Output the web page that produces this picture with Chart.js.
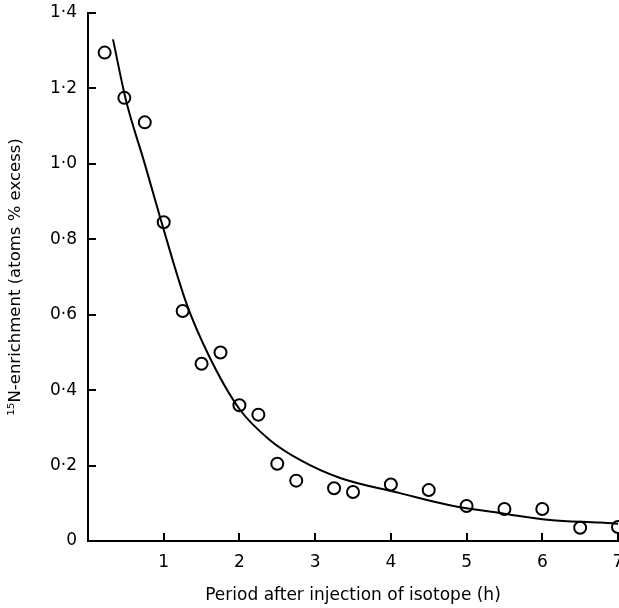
<!DOCTYPE html>
<html>
<head>
<meta charset="utf-8">
<script src="https://cdn.jsdelivr.net/npm/chart.js@4/dist/chart.umd.min.js"></script>
<style>
  html, body { margin: 0; padding: 0; background: #fff; }
  #wrap { width: 619px; height: 608px; position: relative; }
</style>
</head>
<body>
<div id="wrap"><canvas id="chart"></canvas></div>
<script>
// measured points (open circles)
const hours = [0.22, 0.48, 0.75, 1.0, 1.25, 1.5, 1.75, 2.0, 2.25, 2.5, 2.75, 3.25, 3.5, 4.0, 4.5, 5.0, 5.5, 6.0, 6.5, 7.0];
const enrichment = [1.295, 1.175, 1.11, 0.845, 0.61, 0.47, 0.50, 0.36, 0.335, 0.205, 0.16, 0.14, 0.13, 0.15, 0.135, 0.093, 0.085, 0.085, 0.035, 0.037];

// fitted curve
const curveHours = [0.33, 0.5, 0.75, 0.95, 1.3, 1.6, 2.0, 2.4, 2.8, 3.33, 4.12, 4.78, 5.44, 6.1, 6.76, 7.0];
const curveValues = [1.33, 1.17, 1.0, 0.86, 0.63, 0.49, 0.35, 0.268, 0.215, 0.167, 0.127, 0.095, 0.074, 0.056, 0.049, 0.046];

const xTicks = [0, 1, 2, 3, 4, 5, 6, 7];
const yTicks = [0, 0.2, 0.4, 0.6, 0.8, 1.0, 1.2, 1.4];

const font = "'DejaVu Sans', 'Liberation Sans', sans-serif";

const toXY = (xs, ys) => xs.map((x, i) => ({ x, y: ys[i] }));

// ticks point into the plot, so draw them ourselves from the scales
const inwardTicks = {
  id: "inwardTicks",
  afterDatasetsDraw(chart) {
    const { ctx, scales } = chart;
    const x = scales.x, y = scales.y;
    ctx.save();
    ctx.strokeStyle = "#000";
    ctx.lineWidth = 2;
    ctx.beginPath();
    xTicks.forEach((v) => {
      if (v === 0) return;
      const px = Math.round(x.getPixelForValue(v));
      ctx.moveTo(px, y.bottom);
      ctx.lineTo(px, y.bottom - 8);
    });
    yTicks.forEach((v) => {
      if (v === 0) return;
      const py = Math.round(y.getPixelForValue(v));
      ctx.moveTo(x.left, py);
      ctx.lineTo(x.left + 8, py);
    });
    ctx.stroke();
    ctx.restore();
  },
};

new Chart(document.getElementById("chart"), {
  type: "scatter",
  data: {
    datasets: [
      {
        label: "fit",
        data: toXY(curveHours, curveValues),
        showLine: true,
        borderColor: "#000",
        borderWidth: 2,
        pointRadius: 0,
        cubicInterpolationMode: "monotone",
        clip: false,
      },
      {
        label: "measured",
        data: toXY(hours, enrichment),
        pointRadius: 6,
        pointBorderWidth: 2,
        pointBorderColor: "#000",
        pointBackgroundColor: "#fff",
        clip: false,
      },
    ],
  },
  options: {
    responsive: true,
    maintainAspectRatio: false,
    animation: false,
    layout: { autoPadding: false, padding: { top: 13, right: 1, bottom: 0, left: 0 } },
    plugins: { legend: { display: false }, tooltip: { enabled: false } },
    scales: {
      x: {
        type: "linear",
        min: 0,
        max: 7,
        afterBuildTicks: (s) => { s.ticks = xTicks.map((value) => ({ value })); },
        afterFit: (s) => { s.height = 67; s.paddingLeft = 0; s.paddingRight = 0; },
        grid: { display: false, drawTicks: false },
        border: { display: true, color: "#000", width: 2 },
        ticks: {
          padding: 11,
          color: "#000",
          font: { family: font, size: 17 },
          maxRotation: 0,
          callback: (v) => (v === 0 ? "" : String(v)),
        },
        title: {
          display: true,
          text: "Period after injection of isotope (h)",
          color: "#000",
          font: { family: font, size: 17 },
          padding: { top: 0, bottom: 2 },
        },
      },
      y: {
        type: "linear",
        min: 0,
        max: 1.4,
        afterBuildTicks: (s) => { s.ticks = yTicks.map((value) => ({ value })); },
        afterFit: (s) => { s.width = 88; s.paddingTop = 0; s.paddingBottom = 0; },
        grid: { display: false, drawTicks: false },
        border: { display: true, color: "#000", width: 2 },
        ticks: {
          padding: 11,
          color: "#000",
          font: { family: font, size: 17 },
          callback: (v) => (v === 0 ? "0" : v.toFixed(1).replace(".", "\u00b7")),
        },
        title: {
          display: true,
          text: "\u00b9\u2075N-enrichment (atoms % excess)",
          color: "#000",
          font: { family: font, size: 16.5 },
          padding: { top: 6, bottom: 0 },
        },
      },
    },
  },
  plugins: [inwardTicks],
});
</script>
</body>
</html>
